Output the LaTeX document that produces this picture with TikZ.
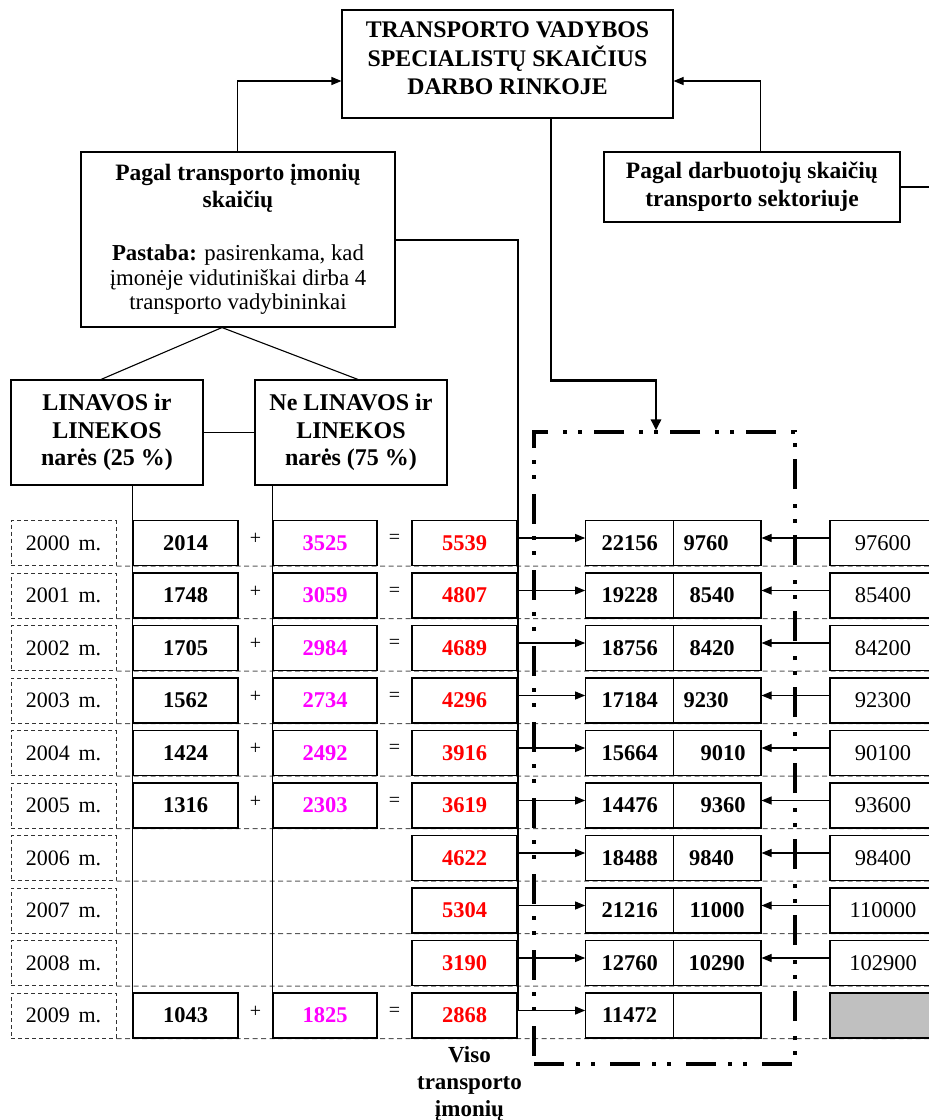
\documentclass[tikz,border=0pt]{standalone}
\usepackage{fontspec}
\setmainfont{Liberation Serif}
\usetikzlibrary{arrows.meta}
\pgfdeclarelayer{background}
\pgfsetlayers{background,main}
\definecolor{numred}{RGB}{255,0,0}
\definecolor{numpink}{RGB}{255,0,255}
\definecolor{cellgray}{RGB}{192,192,192}
\begin{document}
\begin{tikzpicture}[x=1pt,y=-1pt,
  txt/.style={inner sep=0pt, font=\fontsize{22.5}{26}\selectfont},
  bold/.style={font=\fontsize{22.5}{26}\selectfont\bfseries},
  box/.style={draw, line width=1.1pt, fill=white, inner sep=0pt, align=center},
  cell/.style={box, minimum height=45pt, font=\fontsize{22.5}{26}\selectfont},
  yearbox/.style={draw=black!80, line width=1pt, dash pattern=on 4pt off 3pt,
    fill=white, inner sep=0pt, minimum width=105pt, minimum height=45pt,
    font=\fontsize{22}{26}\selectfont},
  arr/.style={line width=1.1pt, -{Triangle[length=10pt,width=8pt]}},
  link/.style={line width=1.1pt},
  heavy/.style={line width=2.8pt},
  bus/.style={line width=2pt},
  rowsep/.style={draw=black!65, line width=1pt, dash pattern=on 5pt off 3.5pt},
  group/.style={draw, line width=3.2pt,
    dash pattern=on 30pt off 12pt on 4pt off 11pt on 4pt off 15pt,
    inner sep=0pt, minimum width=261pt, minimum height=632pt},
  op/.style={inner sep=0pt, font=\fontsize{20}{20}\selectfont}
]
\useasboundingbox (0,0) rectangle (929,1120);
\clip (0,0) rectangle (929,1120);

% --- headings ---
\node[box, minimum width=331pt, minimum height=108pt,
  font=\fontsize{23.8}{28.5}\selectfont\bfseries] (T) at (507.5,64)
  {TRANSPORTO VADYBOS\\SPECIALISTŲ SKAIČIUS\\DARBO RINKOJE\\[-17.5pt]\mbox{}};

\node[box, minimum width=314pt, minimum height=175pt,
  font=\fontsize{22.8}{24.5}\selectfont] (L1) at (238,239.5)
  {\textbf{\fontsize{23.5}{24.5}\selectfont Pagal transporto įmonių}\\[2.5pt]
   \textbf{\fontsize{23.5}{24.5}\selectfont skaičių}\\[28.5pt]
   \textbf{Pastaba:} pasirenkama, kad\\įmonėje vidutiniškai dirba 4\\transporto vadybininkai};

\node[box, minimum width=296pt, minimum height=70pt,
  font=\fontsize{23.5}{28}\selectfont\bfseries] (R1) at (752,187)
  {Pagal darbuotojų skaičių\\transporto sektoriuje};

\node[box, minimum width=192pt, minimum height=105pt,
  font=\fontsize{24}{27.5}\selectfont\bfseries] (LIN) at (107,432.5)
  {LINAVOS ir\\LINEKOS\\narės (25 \%)};
\node[box, minimum width=192pt, minimum height=105pt,
  font=\fontsize{24}{27.5}\selectfont\bfseries] (NLIN) at (351,432.5)
  {Ne LINAVOS ir\\LINEKOS\\narės (75 \%)};

% --- yearly rows ---
\foreach \i/\yr/\s/\p/\q/\qx/\r/\rf in {
  0/2000/5539/22156/9760/706/97600/white,
  1/2001/4807/19228/8540/712/85400/white,
  2/2002/4689/18756/8420/712/84200/white,
  3/2003/4296/17184/9230/706/92300/white,
  4/2004/3916/15664/9010/723/90100/white,
  5/2005/3619/14476/9360/723/93600/white,
  6/2006/4622/18488/9840/711.5/98400/white,
  7/2007/5304/21216/11000/717/110000/white,
  8/2008/3190/12760/10290/716.7/102900/white,
  9/2009/2868/11472//717//cellgray}{
  \pgfmathsetmacro{\yc}{543+52.5*\i}
  \node[yearbox] (y\i) at (63.5,\yc) {\yr\hspace{0.4em}m.};
  \node[cell, minimum width=105pt, bold, text=numred] (s\i) at (464.5,\yc) {\s};
  \node[cell, minimum width=88pt, bold] (p\i) at (629.7,\yc) {\p};
  \node[cell, minimum width=87.3pt] (q\i) at (717.35,\yc) {};
  \node[txt, bold] (qn\i) at (\qx,\yc) {\q};
  \node[cell, minimum width=106pt, fill=\rf] (r\i) at (883,\yc) {\r};
  \begin{pgfonlayer}{background}
    \draw[rowsep] (y\i.south east) -- (r\i.south east);
  \end{pgfonlayer}
}

\foreach \i/\a/\b in {0/2014/3525,1/1748/3059,2/1705/2984,3/1562/2734,
                      4/1424/2492,5/1316/2303,9/1043/1825}{
  \pgfmathsetmacro{\yo}{539+52.5*\i}
  \node[cell, minimum width=105pt, bold] (a\i) at (185.5,543+52.5*\i) {\a};
  \node[cell, minimum width=104pt, bold, text=numpink] (b\i) at (325,543+52.5*\i) {\b};
  \node[op] (plus\i) at (255.5,\yo) {+};
  \node[op] (eq\i) at (394.5,\yo) {=};
}

\node[inner sep=0pt, anchor=north, align=center,
  font=\fontsize{23}{26.8}\selectfont\bfseries] (viso)
  at ([xshift=5pt,yshift=-8pt]s9.south) {Viso\\transporto\\įmonių};

% --- connectors ---
\draw[arr] ([xshift=-0.5pt]L1.north) |- ([yshift=-17pt]T.west);
\draw[arr] ([xshift=8.5pt]R1.north) |- ([yshift=-17pt]T.east);
\draw[heavy] (R1.east) -- ++(60,0);

\draw[link] ([xshift=-16pt]L1.south) -- ([xshift=-6pt]LIN.north);
\draw[link] ([xshift=-16pt]L1.south) -- ([xshift=7pt]NLIN.north);
\draw[link] (LIN.east) -- (NLIN.west);
\draw[link] (LIN.south -| a9.north west) -- (a9.north west);
\draw[link] (NLIN.south -| b9.north west) -- (b9.north west);

\draw[bus] (L1.east) -| ([yshift=5pt]s9.east);

\foreach \i in {0,...,9}{
  \draw[arr] ([yshift=5pt]s\i.east) -- ([yshift=5pt]p\i.west);
}
\foreach \i in {0,...,8}{
  \draw[arr] ([yshift=5pt]r\i.west) -- ([yshift=5pt]q\i.east);
}

\node[group] (grp) at (664.5,748) {};
\draw[heavy, -{Triangle[length=11pt,width=10pt]}]
  ([xshift=43.5pt]T.south) -- ++(0,262) -| ([xshift=-8.5pt]grp.north);
\end{tikzpicture}
\end{document}
